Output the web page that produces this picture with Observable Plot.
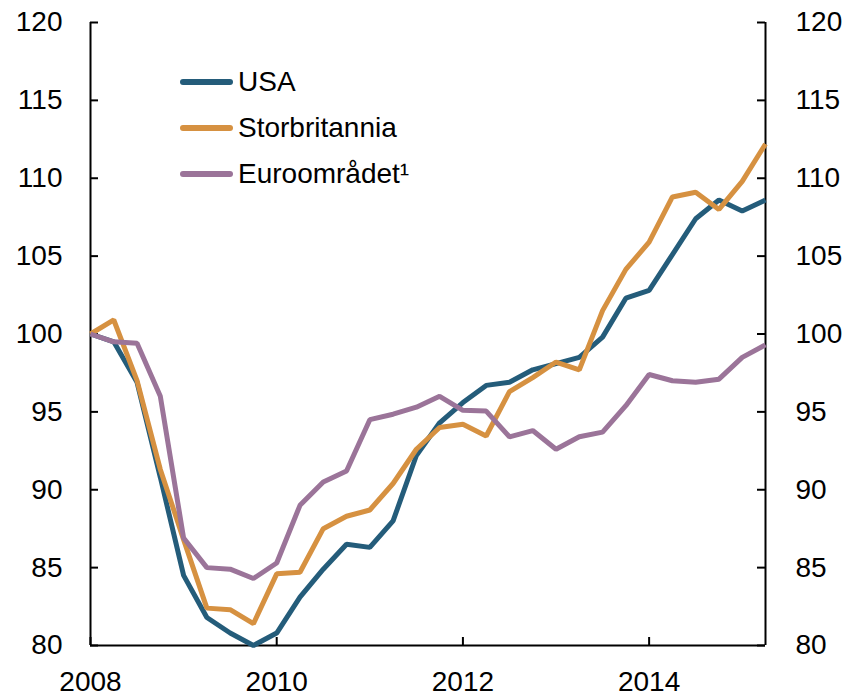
<!DOCTYPE html>
<html><head><meta charset="utf-8">
<script src="https://cdn.jsdelivr.net/npm/d3@7"></script>
<script src="https://cdn.jsdelivr.net/npm/@observablehq/plot@0.6"></script>
<style>
body{margin:0;background:#fff;}
#wrap{position:relative;width:849px;height:697px;font-family:"Liberation Sans",Arial,sans-serif;}
#legend{position:absolute;left:180px;top:59px;}
.item{display:flex;align-items:center;height:46px;font-size:28px;color:#000;line-height:1;}
.sw{display:inline-block;width:53px;height:6px;border-radius:3px;margin-right:5px;}
</style></head><body><div id="wrap"><div id="legend"></div></div>
<script>
const periods = ["2008K1","2008K2","2008K3","2008K4","2009K1","2009K2","2009K3","2009K4",
  "2010K1","2010K2","2010K3","2010K4","2011K1","2011K2","2011K3","2011K4",
  "2012K1","2012K2","2012K3","2012K4","2013K1","2013K2","2013K3","2013K4",
  "2014K1","2014K2","2014K3","2014K4","2015K1","2015K2"];
const usa = [100, 99.5, 96.9, 90.8, 84.5, 81.8, 80.8, 80.0, 80.8, 83.1, 84.9, 86.5, 86.3, 88.0, 92.2, 94.3,
  95.6, 96.7, 96.9, 97.7, 98.1, 98.5, 99.8, 102.3, 102.8, 105.1, 107.4, 108.6, 107.9, 108.6];
const storbritannia = [100, 100.9, 97.0, 91.3, 86.8, 82.4, 82.3, 81.4, 84.6, 84.7, 87.5, 88.3, 88.7, 90.4, 92.6, 94.0,
  94.2, 93.45, 96.3, 97.2, 98.2, 97.7, 101.5, 104.15, 105.9, 108.8, 109.1, 108.0, 109.8, 112.2];
const euroomradet = [100, 99.5, 99.4, 96.0, 86.9, 85.0, 84.9, 84.3, 85.3, 89.0, 90.5, 91.2, 94.5, 94.85, 95.3, 96.0,
  95.1, 95.05, 93.4, 93.8, 92.6, 93.4, 93.7, 95.4, 97.4, 97.0, 96.9, 97.1, 98.5, 99.3];
const seriesNames = ["USA", "Storbritannia", "Euroområdet¹"];
const seriesColors = ["#245c7a", "#d69141", "#9b7499"];
const yTicks = [80, 85, 90, 95, 100, 105, 110, 115, 120];
const xTicks = [2008, 2010, 2012, 2014];

const W = 849, H = 697, mL = 90, mR = 84, mT = 22, mB = 52, tick = 8;
const plotW = W - mL - mR, plotH = H - mT - mB;

const toYear = p => +p.slice(0, 4) + (+p.slice(5) - 1) / 4;
const allSeries = [usa, storbritannia, euroomradet];
const rows = allSeries.flatMap((vals, s) => vals.map((v, i) => ({x: toYear(periods[i]), y: v, s: seriesNames[s]})));
const xMin = toYear(periods[0]), xMax = toYear(periods[periods.length - 1]);

const chart = Plot.plot({
  width: W, height: H,
  marginLeft: mL, marginRight: mR, marginTop: mT, marginBottom: mB,
  style: {fontFamily: '"Liberation Sans", Arial, sans-serif', fontSize: "28px", color: "#000", background: "#fff"},
  x: {domain: [xMin, xMax]},
  y: {domain: [80, 120]},
  color: {domain: seriesNames, range: seriesColors},
  marks: [
    Plot.axisY({anchor: "left", ticks: yTicks, tickSize: 0, tickPadding: 28, tickFormat: d => String(d), label: null}),
    Plot.axisY({anchor: "right", ticks: yTicks, tickSize: 0, tickPadding: 30, tickFormat: d => String(d), label: null}),
    Plot.axisX({anchor: "bottom", ticks: xTicks, tickSize: 0, tickPadding: 26, tickFormat: d => String(d), label: null}),
    Plot.tickY(yTicks, {y: d => d, insetRight: plotW - tick, stroke: "#000", strokeWidth: 2}),
    Plot.tickY(yTicks, {y: d => d, insetLeft: plotW - tick, stroke: "#000", strokeWidth: 2}),
    Plot.tickX(xTicks, {x: d => d, insetTop: plotH - tick, stroke: "#000", strokeWidth: 2}),
    Plot.ruleX([xMin, xMax], {stroke: "#000", strokeWidth: 2}),
    Plot.ruleY([80], {stroke: "#000", strokeWidth: 2}),
    Plot.line(rows, {x: "x", y: "y", z: "s", stroke: "s", strokeWidth: 5, strokeLinejoin: "miter", strokeLinecap: "butt"})
  ]
});
document.getElementById("wrap").prepend(chart);

const legend = document.getElementById("legend");
seriesNames.forEach((n, i) => {
  const it = document.createElement("div");
  it.className = "item";
  const sw = document.createElement("span");
  sw.className = "sw";
  sw.style.background = seriesColors[i];
  const t = document.createElement("span");
  t.textContent = n;
  it.append(sw, t);
  legend.append(it);
});
</script>
</body></html>
